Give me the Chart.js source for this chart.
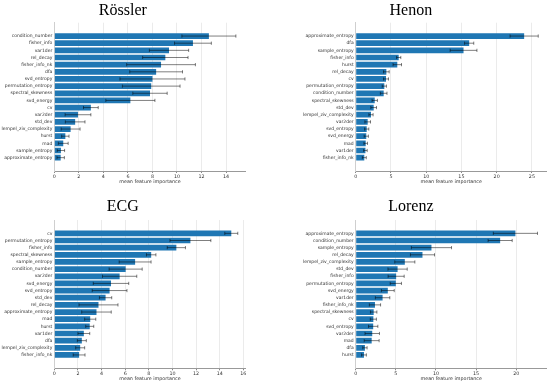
<!DOCTYPE html>
<html>
<head>
<meta charset="utf-8">
<script src="https://cdn.jsdelivr.net/npm/chart.js@4"></script>
<style>
  body { margin: 0; background: #fff; }
  #wrap { position: relative; width: 550px; height: 383px; }
  canvas { position: absolute; }
</style>
</head>
<body>
<div id="wrap">
  <canvas id="c1" width="275" height="184" style="left:0;top:0"></canvas>
  <canvas id="c2" width="275" height="184" style="left:275px;top:0"></canvas>
  <canvas id="c3" width="275" height="189" style="left:0;top:192px"></canvas>
  <canvas id="c4" width="275" height="189" style="left:275px;top:192px"></canvas>
</div>
<script>
// Rössler
const rosslerFeatures = ['condition_number','fisher_info','var1der','rel_decay','fisher_info_nk','dfa','svd_entropy','permutation_entropy','spectral_skewness','svd_energy','cv','var2der','std_dev','lempel_ziv_complexity','hurst','mad','sample_entropy','approximate_entropy'];
const rosslerMeans  = [12.6, 11.3, 9.35, 9.05, 8.7, 8.3, 8.0, 7.9, 7.8, 6.2, 2.98, 1.93, 1.7, 1.33, 0.9, 0.73, 0.54, 0.52];
const rosslerErrors = [2.2, 1.5, 1.6, 1.85, 2.8, 2.15, 2.65, 2.35, 1.4, 2.0, 0.6, 1.05, 0.8, 0.77, 0.3, 0.4, 0.3, 0.3];
const rosslerTicks  = [0, 2, 4, 6, 8, 10, 12, 14];

// Henon
const henonFeatures = ['approximate_entropy','dfa','sample_entropy','fisher_info','hurst','rel_decay','cv','permutation_entropy','condition_number','spectral_skewness','std_dev','lempel_ziv_complexity','var2der','svd_entropy','svd_energy','mad','var1der','fisher_info_nk'];
const henonMeans  = [23.9, 16.1, 15.3, 6.1, 5.9, 4.35, 4.3, 4.06, 3.97, 2.7, 2.55, 2.17, 1.7, 1.56, 1.5, 1.42, 1.38, 1.22];
const henonErrors = [2.0, 0.65, 1.9, 0.3, 0.6, 0.4, 0.35, 0.3, 0.47, 0.38, 0.4, 0.3, 0.4, 0.3, 0.3, 0.25, 0.25, 0.28];
const henonTicks  = [0, 5, 10, 15, 20, 25];

// ECG
const ecgFeatures = ['cv','permutation_entropy','fisher_info','spectral_skewness','sample_entropy','condition_number','var2der','svd_energy','svd_entropy','std_dev','rel_decay','approximate_entropy','mad','hurst','var1der','dfa','lempel_ziv_complexity','fisher_info_nk'];
const ecgMeans  = [14.98, 11.52, 10.33, 8.2, 6.84, 6.04, 5.53, 4.8, 4.68, 4.34, 3.74, 3.57, 3.04, 3.0, 2.5, 2.33, 2.19, 2.1];
const ecgErrors = [0.55, 1.73, 0.77, 0.4, 1.35, 1.4, 1.45, 1.5, 1.47, 0.52, 1.65, 1.25, 0.47, 0.34, 0.5, 0.38, 0.38, 0.5];
const ecgTicks  = [0, 2, 4, 6, 8, 10, 12, 14, 16];

// Lorenz
const lorenzFeatures = ['approximate_entropy','condition_number','sample_entropy','rel_decay','lempel_ziv_complexity','std_dev','fisher_info','permutation_entropy','svd_energy','var1der','fisher_info_nk','spectral_skewness','cv','svd_entropy','var2der','mad','dfa','hurst'];
const lorenzMeans  = [19.9, 18.0, 9.44, 8.32, 6.12, 5.22, 5.04, 5.0, 4.0, 3.35, 2.4, 2.24, 2.2, 2.18, 2.06, 1.99, 1.15, 1.03];
const lorenzErrors = [2.75, 1.5, 2.5, 1.5, 1.25, 1.2, 1.0, 0.7, 0.8, 0.9, 0.7, 0.4, 0.38, 0.58, 0.9, 0.93, 0.27, 0.3];
const lorenzTicks  = [0, 5, 10, 15, 20];

const blue = '#1f77b4';

// error bars drawn on top of the bars
const errorBars = {
  id: 'errorBars',
  afterDatasetsDraw(chart, args, opts) {
    const ctx = chart.ctx, xs = chart.scales.x, ys = chart.scales.y;
    ctx.save();
    ctx.strokeStyle = 'rgba(0,0,0,0.5)';
    ctx.lineWidth = 1;
    opts.means.forEach((m, i) => {
      const y = ys.getPixelForValue(i);
      const x0 = xs.getPixelForValue(m - opts.errors[i]);
      const x1 = xs.getPixelForValue(m + opts.errors[i]);
      ctx.beginPath();
      ctx.moveTo(x0, y); ctx.lineTo(x1, y);
      ctx.moveTo(x0, y - 1.6); ctx.lineTo(x0, y + 1.6);
      ctx.moveTo(x1, y - 1.6); ctx.lineTo(x1, y + 1.6);
      ctx.stroke();
    });
    ctx.restore();
  }
};

function makeChart(id, title, features, means, errors, ticks, xmax, p) {
  const n = features.length;
  new Chart(document.getElementById(id), {
    type: 'bar',
    data: {
      datasets: [{
        data: means.map((v, i) => ({ x: v, y: i })),
        backgroundColor: blue,
        borderWidth: 0,
        barPercentage: 0.8,
        categoryPercentage: 1
      }]
    },
    options: {
      indexAxis: 'y',
      responsive: false,
      animation: false,
      layout: { padding: { left: 0, right: p.right, top: 0, bottom: 0 } },
      plugins: {
        legend: { display: false },
        tooltip: { enabled: false },
        title: {
          display: true,
          text: title,
          font: { family: 'Liberation Serif', size: 16, weight: 'normal' },
          color: '#000',
          padding: { top: p.titleTop, bottom: p.titleBottom }
        },
        errorBars: { means: means, errors: errors }
      },
      scales: {
        x: {
          type: 'linear',
          min: 0, max: xmax,
          afterBuildTicks: s => { s.ticks = ticks.map(v => ({ value: v })); },
          afterFit: s => { s.height = p.xh; },
          grid: { color: '#ebebeb', tickLength: 2, tickColor: '#888' },
          border: { color: '#999' },
          ticks: { font: { family: 'DejaVu Sans', size: 4.8 }, color: '#333', padding: 1, maxRotation: 0 },
          title: { display: true, text: 'mean feature importance', font: { family: 'DejaVu Sans', size: 4.8, lineHeight: 1.1 }, color: '#333', padding: 0 }
        },
        y: {
          type: 'linear',
          reverse: true,
          min: -0.4 - 0.05 * (n - 0.2), max: n - 0.6 + 0.05 * (n - 0.2),
          afterBuildTicks: s => { s.ticks = features.map((f, i) => ({ value: i })); },
          afterFit: s => { s.width = p.yw; },
          ticks: {
            font: { family: 'DejaVu Sans', size: 4.5 }, color: '#333', padding: 2, autoSkip: false,
            callback: v => features[v]
          },
          grid: { display: false, drawTicks: false },
          border: { color: '#cfcfcf' }
        }
      }
    },
    plugins: [errorBars]
  });
}

makeChart('c1', 'Rössler', rosslerFeatures, rosslerMeans, rosslerErrors, rosslerTicks, 15.6,
  { right: 29.3, yw: 54.3, xh: 13, titleTop: 1.5, titleBottom: 2 });
makeChart('c2', 'Henon', henonFeatures, henonMeans, henonErrors, henonTicks, 27.1,
  { right: 3.3, yw: 80.7, xh: 13, titleTop: 1.5, titleBottom: 2 });
makeChart('c3', 'ECG', ecgFeatures, ecgMeans, ecgErrors, ecgTicks, 16.2,
  { right: 29.3, yw: 54.3, xh: 12.7, titleTop: 5.5, titleBottom: 3.3 });
makeChart('c4', 'Lorenz', lorenzFeatures, lorenzMeans, lorenzErrors, lorenzTicks, 23.8,
  { right: 3.3, yw: 80.7, xh: 12.7, titleTop: 5.5, titleBottom: 3.3 });
</script>
</body>
</html>
